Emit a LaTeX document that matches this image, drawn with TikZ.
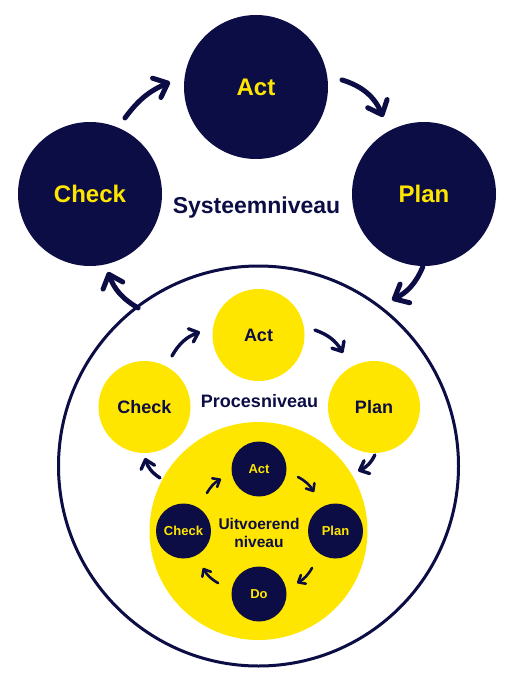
\documentclass[tikz,border=0pt]{standalone}
\usepackage{fontspec}
\setmainfont{Liberation Sans}
\usepackage{tikz}
\usetikzlibrary{arrows.meta, calc}
\definecolor{pdcanavy}{RGB}{12,13,68}
\definecolor{pdcayellow}{RGB}{255,230,0}
\tikzset{
  ring/.style={circle, inner sep=0pt, align=center},
  sysnode/.style={ring, minimum size=144pt, fill=pdcanavy, text=pdcayellow,
    font=\fontsize{24}{28}\selectfont\bfseries},
  procnode/.style={ring, minimum size=92pt, fill=pdcayellow, text=pdcanavy,
    font=\fontsize{18}{22}\selectfont\bfseries},
  uitvnode/.style={ring, minimum size=55pt, fill=pdcanavy, text=pdcayellow,
    font=\fontsize{13}{15}\selectfont\bfseries},
  levellabel/.style={text=pdcanavy, align=center, inner sep=0pt},
  sysarrow/.style={-{Straight Barb[round, length=12pt, width=21pt]},
    line width=5pt, line cap=round, color=pdcanavy},
  procarrow/.style={-{Straight Barb[round, length=8pt, width=14pt]},
    line width=3.4pt, line cap=round, color=pdcanavy},
  uitvarrow/.style={-{Straight Barb[round, length=6pt, width=10pt]},
    line width=2.6pt, line cap=round, color=pdcanavy},
}

\begin{document}
\begin{tikzpicture}[x=1pt, y=1pt]
  \useasboundingbox (0,0) rectangle (514,-682);

  % systeemniveau
  \node[ring, minimum size=400pt, draw=pdcanavy, line width=3pt, fill=white]
    (outer) at (258.5,-466) {};
  \node[sysnode] (act) at (256,-87) {Act};
  \node[sysnode] (pln) at (424,-194) {Plan};
  \node[sysnode] (chk) at (90,-194) {Check};
  \node[levellabel, anchor=base, font=\fontsize{23}{27}\selectfont\bfseries]
    (sys) at (256.5,-213) {Systeemniveau};

  \draw[sysarrow] ($(chk)+(65.3:83.7)$) to[bend left=15] ($(act)+(176.7:86.1)$);
  \draw[sysarrow] ($(act)+(4.7:86.3)$) to[bend left=25] ($(pln)+(118:87.2)$);
  \draw[sysarrow] ($(pln)+(269:73)$) to[bend left=20] ($(outer)+(51.2:213)$);
  \draw[sysarrow] ($(outer)+(127.3:198.7)$) to[bend left=20] ($(chk)+(-77:80)$);

  % procesniveau
  \node[ring, minimum size=218pt, fill=pdcayellow] (yel) at (258.5,-531) {};
  \node[procnode] (mact) at (258.5,-335) {Act};
  \node[procnode] (mpln) at (374,-407) {Plan};
  \node[procnode] (mchk) at (144.5,-407) {Check};
  \node[levellabel, anchor=base, font=\fontsize{18}{22}\selectfont\bfseries]
    (proc) at (259.5,-407) {Procesniveau};

  \draw[procarrow] ($(mchk)+(61.7:57.9)$) to[bend left=20] ($(mact)+(177:58.6)$);
  \draw[procarrow] ($(mact)+(5:56.7)$) to[bend left=20] ($(mpln)+(119.9:62.3)$);
  \draw[procarrow] ($(mpln)+(271:48)$) to[bend left=20] ($(yel)+(31.1:116.2)$);
  \draw[procarrow] ($(yel)+(151.7:111.9)$) to[bend left=20] ($(mchk)+(270.6:51)$);

  % uitvoerend niveau
  \node[uitvnode] (iact) at (259,-469) {Act};
  \node[uitvnode] (ipln) at (335.5,-531) {Plan};
  \node[uitvnode] (ido) at (259,-594) {Do};
  \node[uitvnode] (ichk) at (183.5,-531) {Check};
  \node[levellabel, font=\fontsize{15.5}{18}\selectfont\bfseries]
    (uitv) at (259,-532.5) {Uitvoerend\\niveau};

  \draw[uitvarrow] ($(ichk)+(58.3:44.7)$) to[bend left=15] ($(iact)+(194.7:39.3)$);
  \draw[uitvarrow] ($(iact)+(-11.6:39.8)$) to[bend left=15] ($(ipln)+(118.9:44.5)$);
  \draw[uitvarrow] ($(ipln)+(237.6:43.8)$) to[bend left=15] ($(ido)+(16.1:39.6)$);
  \draw[uitvarrow] ($(ido)+(165:42.4)$) to[bend left=15] ($(ichk)+(-62.2:41.8)$);
\end{tikzpicture}
\end{document}
